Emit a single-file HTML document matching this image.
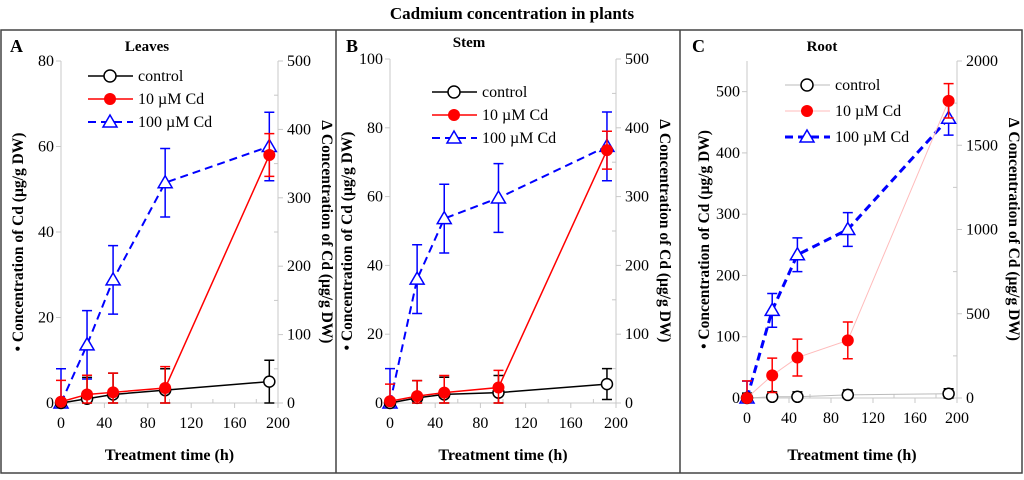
<!DOCTYPE html>
<html><head><meta charset="utf-8"><style>
body{margin:0;background:#fff;width:1024px;height:475px;overflow:hidden}
svg text{font-family:"Liberation Serif",serif}
</style></head><body>
<svg id="chart" width="1024" height="475" viewBox="0 0 1024 475" xmlns="http://www.w3.org/2000/svg">
<text x="512" y="19" text-anchor="middle" font-size="17" font-weight="bold">Cadmium concentration in plants</text>
<rect x="1" y="30" width="1021" height="443" fill="none" stroke="#444" stroke-width="1.5"/>
<line x1="336" y1="30" x2="336" y2="473" stroke="#444" stroke-width="1.5"/>
<line x1="680" y1="30" x2="680" y2="473" stroke="#444" stroke-width="1.5"/>
</svg>
<script>
const times=[0,24,48,96,192];
// Panel A (Leaves)
const aControl=[0,1,2,3,5], aControlErr=[0.5,5,5,5,5];
const a10=[0.3,2,2.5,3.5,58], a10Err=[5,4.5,4.5,5,5];
const a100=[0,85,180,322,375], a100Err=[50,50,50,50,50];
// Panel B (Stem)
const bControl=[0,1.5,2.5,3,5.5], bControlErr=[0.5,5,5,5,4.5];
const b10=[0.5,2,3,4.5,73.5], b10Err=[5,4.5,5,5,5.5];
const b100=[0,180,268,298,373], b100Err=[50,50,50,50,50];
// Panel C (Root)
const cControl=[0,2,2,5,7], cControlErr=[8,8,8,8,8];
const c10=[0,37,66,94,485], c10Err=[28,28,30,30,28];
const c100=[0,520,850,1000,1660], c100Err=[100,100,100,100,100];
const xTicks=[0,40,80,120,160,200];
const aLeftTicks=[0,20,40,60,80], aRightTicks=[0,100,200,300,400,500];
const bLeftTicks=[0,20,40,60,80,100], bRightTicks=[0,100,200,300,400,500];
const cLeftTicks=[0,100,200,300,400,500], cRightTicks=[0,500,1000,1500,2000];

const svg=document.getElementById('chart');
const NS='http://www.w3.org/2000/svg';
function mk(tag,attrs,parent,text){const e=document.createElementNS(NS,tag);for(const k in attrs)e.setAttribute(k,attrs[k]);if(text!==undefined)e.textContent=text;(parent||svg).appendChild(e);return e;}

function panel(o){
  const g=mk('g',{});
  
  
  const X=v=>o.x0+(o.x1-o.x0)*v/200;
  const YL=v=>o.y0-(o.y0-o.yTop)*v/o.lMax;
  const YR=v=>o.y0-(o.y0-o.yTop)*v/o.rMax;
  const top=o.yTop;
  const ax=mk('path',{d:`M${o.x0} ${top}V${o.y0}H${o.x1}V${top}`,fill:'none',stroke:'#c8c8c8','stroke-width':1},g);
  
  
  xTicks.forEach(t=>{
    mk('line',{x1:X(t),x2:X(t),y1:o.y0,y2:o.y0+5,stroke:'#c8c8c8'},g);
    const tl=mk('text',{x:X(t),y:o.y0+25,'text-anchor':'middle','font-size':16},g,t);
    
    
    if(t<200)mk('line',{x1:X(t+20),x2:X(t+20),y1:o.y0,y2:o.y0-4,stroke:'#c8c8c8'},g);
  });
  o.lt.forEach(t=>{
    mk('line',{x1:o.x0-5,x2:o.x0,y1:YL(t),y2:YL(t),stroke:'#c8c8c8'},g);
    const tl=mk('text',{x:o.x0-7,y:YL(t)+5,'text-anchor':'end','font-size':16},g,t);
    
    
  });
  o.rt.forEach((t,i)=>{
    mk('line',{x1:o.x1,x2:o.x1+5,y1:YR(t),y2:YR(t),stroke:'#c8c8c8'},g);
    const tl=mk('text',{x:o.x1+9,y:YR(t)+5,'font-size':16},g,t);
    
    
    if(i<o.rt.length-1){const m=(t+o.rt[i+1])/2;mk('line',{x1:o.x1-4,x2:o.x1,y1:YR(m),y2:YR(m),stroke:'#c8c8c8'},g);}
  });
  const xt=mk('text',{x:(o.x0+o.x1)/2,y:460,'text-anchor':'middle','font-size':16,'font-weight':'bold'},g,'Treatment time (h)');
  
  
  const cy=(o.yTop+o.y0)/2+10;
  const lt=mk('text',{x:0,y:0,transform:`translate(${o.x0-38},${cy}) rotate(-90)`,'text-anchor':'middle','font-size':15.5,'font-weight':'bold'},g,'• Concentration of Cd (µg/g DW)');
  
  
  const rt=mk('text',{x:0,y:0,transform:`translate(${o.x1+o.rOff},${cy-10}) rotate(90)`,'text-anchor':'middle','font-size':15.5,'font-weight':'bold'},g,'∆ Concentration of Cd (µg/g DW)');
  
  
  const pl=mk('text',{x:o.px,y:52,'font-size':18,'font-weight':'bold'},g,o.id.toUpperCase());
  
  
  const pt=mk('text',{x:o.tx,y:o.ty,'text-anchor':'middle','font-size':15,'font-weight':'bold'},g,o.title);
  
  
  function series(name,vals,errs,Y,lineColor,lw,dash,marker,errColor){
    const sg=mk('g',{},g);
    
    
    const d=vals.map((v,i)=>(i?'L':'M')+X(times[i])+' '+Y(v)).join('');
    mk('path',{d,fill:'none',stroke:lineColor,'stroke-width':lw,'stroke-dasharray':dash||'none'},sg);
    vals.forEach((v,i)=>{
      const x=X(times[i]),y1=Y(v+errs[i]),y2=Y(Math.max(0,v-errs[i]));
      const eb=mk('path',{d:`M${x} ${y1}V${y2}M${x-5} ${y1}H${x+5}M${x-5} ${y2}H${x+5}`,stroke:errColor,'stroke-width':1.5,fill:'none'},sg);
      
      
    });
    vals.forEach((v,i)=>{
      const x=X(times[i]),y=Y(v);let m;
      if(marker==='open')m=mk('circle',{cx:x,cy:y,r:5.5,fill:'#fff',stroke:'#000','stroke-width':1.5},sg);
      else if(marker==='fill')m=mk('circle',{cx:x,cy:y,r:5.5,fill:'#f00',stroke:'#f00'},sg);
      else m=mk('path',{d:`M${x} ${y-7}L${x+7} ${y+5}L${x-7} ${y+5}Z`,fill:'#fff',stroke:'#00f','stroke-width':1.5},sg);
      
      
    });
  }
  series('100uM',o.s100,o.s100e,YR,'#00f',o.blueW,'8,5','tri','#00f');
  series('control',o.sc,o.sce,YL,o.cLine,o.cW,null,'open','#000');
  series('10uM',o.s10,o.s10e,YL,o.rLine,o.rW,null,'fill','#f00');
  const lg=mk('g',{},g);
  
  
  const L=[['control',o.cLine,o.cW,null,'open'],['10 µM Cd',o.rLine,o.rW,null,'fill'],['100 µM Cd','#00f',o.blueW,'8,5','tri']];
  L.forEach((e,i)=>{
    const y=o.ly+i*o.lstep,x=o.lx;
    const le=mk('g',{},lg);
    
    
    mk('line',{x1:x,x2:x+45,y1:y,y2:y,stroke:e[1],'stroke-width':e[2],'stroke-dasharray':e[3]||'none'},le);
    const cx=x+22;
    if(e[4]==='open')mk('circle',{cx,cy:y,r:6,fill:'#fff',stroke:'#000','stroke-width':1.5},le);
    else if(e[4]==='fill')mk('circle',{cx,cy:y,r:6,fill:'#f00'},le);
    else mk('path',{d:`M${cx} ${y-7}L${cx+7} ${y+5}L${cx-7} ${y+5}Z`,fill:'#fff',stroke:'#00f','stroke-width':1.5},le);
    mk('text',{x:x+50,y:y+5,'font-size':16},le,e[0]);
  });
}
panel({id:'a',title:'Leaves',tx:147,ty:51,px:10,x0:61,x1:278,y0:403,yTop:61,lMax:80,rMax:500,lt:aLeftTicks,rt:aRightTicks,rOff:44,
  sc:aControl,sce:aControlErr,s10:a10,s10e:a10Err,s100:a100,s100e:a100Err,cLine:'#000',cW:1.5,rLine:'#f00',rW:1.5,blueW:2,lx:88,ly:76,lstep:23});
panel({id:'b',title:'Stem',tx:469,ty:47,px:346,x0:390,x1:616,y0:403,yTop:59,lMax:100,rMax:500,lt:bLeftTicks,rt:bRightTicks,rOff:44,
  sc:bControl,sce:bControlErr,s10:b10,s10e:b10Err,s100:b100,s100e:b100Err,cLine:'#000',cW:1.5,rLine:'#f00',rW:1.5,blueW:2,lx:432,ly:92,lstep:23});
panel({id:'c',title:'Root',tx:822,ty:51,px:692,x0:747,x1:957,y0:398,yTop:61,lMax:550,rMax:2000,lt:cLeftTicks,rt:cRightTicks,rOff:52,
  sc:cControl,sce:cControlErr,s10:c10,s10e:c10Err,s100:c100,s100e:c100Err,cLine:'#bbb',cW:1,rLine:'#fbb',rW:1,blueW:3,lx:785,ly:85,lstep:26});
</script>
</body></html>
